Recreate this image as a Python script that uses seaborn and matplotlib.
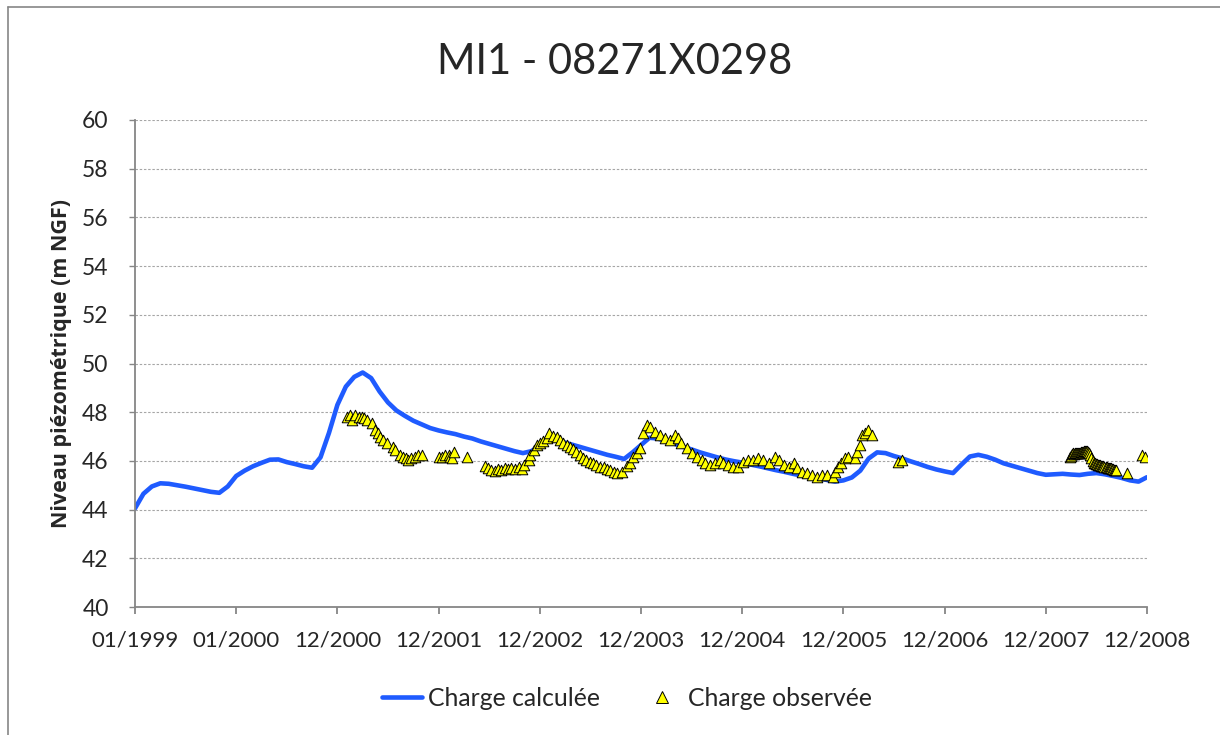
import matplotlib
matplotlib.use("Agg")
import matplotlib.pyplot as plt
import seaborn as sns
import numpy as np
import pandas as pd
from matplotlib.lines import Line2D

# ---------------------------------------------------------------- data
title = "MI1 - 08271X0298"
y_label = "Niveau piézométrique (m NGF)"
x_tick_labels = ["01/1999", "01/2000", "12/2000", "12/2001", "12/2002", "12/2003",
                 "12/2004", "12/2005", "12/2006", "12/2007", "12/2008"]
y_ticks = [40, 42, 44, 46, 48, 50, 52, 54, 56, 58, 60]

# simulated head, monthly, time in 365-day periods from 01/01/1999
calc_t = [m / 12 for m in range(121)]
calc_v = [
    44.05, 44.65, 44.95, 45.08, 45.06, 45.00, 44.94, 44.87, 44.80, 44.73, 44.69, 44.95,
    45.38, 45.60, 45.78, 45.92, 46.05, 46.06, 45.95, 45.87, 45.78, 45.72, 46.15, 47.15,
    48.30, 49.05, 49.45, 49.63, 49.40, 48.85, 48.40, 48.07, 47.85, 47.65, 47.50, 47.35,
    47.25, 47.17, 47.10, 47.00, 46.92, 46.80, 46.70, 46.60, 46.50, 46.40, 46.32, 46.40,
    46.62, 46.82, 46.85, 46.75, 46.65, 46.55, 46.45, 46.35, 46.25, 46.17, 46.08, 46.35,
    46.65, 46.95, 46.92, 46.80, 46.70, 46.58, 46.47, 46.35, 46.25, 46.15, 46.06, 45.99,
    45.93, 45.85, 45.78, 45.70, 45.62, 45.55, 45.47, 45.40, 45.35, 45.30, 45.22, 45.15,
    45.20, 45.32, 45.60, 46.10, 46.35, 46.32, 46.20, 46.10, 45.98, 45.87, 45.75, 45.65,
    45.57, 45.50, 45.85, 46.18, 46.25, 46.17, 46.05, 45.90, 45.80, 45.70, 45.60, 45.50,
    45.43, 45.45, 45.47, 45.44, 45.42, 45.47, 45.50, 45.45, 45.38, 45.30, 45.20, 45.15,
    45.33,
]

# observed head
obs_t = [
    # 2001
    2.09, 2.12, 2.14, 2.17, 2.21, 2.24, 2.26, 2.29, 2.34, 2.37, 2.40, 2.42, 2.45, 2.49,
    2.55, 2.57, 2.62, 2.65, 2.68, 2.70, 2.73, 2.77, 2.80, 2.84, 3.00, 3.03, 3.06, 3.10,
    3.11, 3.13, 3.15, 3.28,
    # 2002 - 2003
    3.46, 3.49, 3.52, 3.56, 3.59, 3.62, 3.66, 3.69, 3.72, 3.75, 3.79, 3.82, 3.84, 3.89,
    3.90, 3.94, 3.97, 4.00, 4.03, 4.07, 4.09, 4.13, 4.17, 4.20, 4.23, 4.27, 4.30, 4.33,
    4.36, 4.40, 4.43, 4.46, 4.50, 4.53, 4.56, 4.59, 4.63, 4.66, 4.69, 4.73, 4.76, 4.81,
    4.86, 4.89, 4.92, 4.96, 4.99, 5.02, 5.06,
    # 2004 - 2005
    5.09, 5.14, 5.19, 5.24, 5.29, 5.34, 5.37, 5.40, 5.45, 5.50, 5.55, 5.60, 5.63, 5.68,
    5.73, 5.78, 5.81, 5.86, 5.91, 5.96, 6.01, 6.06, 6.11, 6.16, 6.21, 6.26, 6.32, 6.36,
    6.41, 6.46, 6.51, 6.54, 6.59, 6.64, 6.69, 6.74, 6.79, 6.84, 6.90, 6.92, 6.95, 6.98,
    7.02, 7.05, 7.11, 7.13, 7.16, 7.18, 7.21, 7.24, 7.28, 7.54, 7.58,
    # 2008
    9.24, 9.25, 9.26, 9.27, 9.28, 9.29, 9.30, 9.31, 9.32, 9.33, 9.34, 9.35, 9.36, 9.37,
    9.38, 9.39, 9.40, 9.41, 9.42, 9.43, 9.44, 9.45, 9.47, 9.48, 9.49, 9.50, 9.51, 9.52,
    9.53, 9.54, 9.55, 9.56, 9.57, 9.58, 9.59, 9.60, 9.61, 9.62, 9.63, 9.64, 9.65, 9.66,
    9.67, 9.68, 9.69, 9.80, 9.95, 9.98,
]
obs_v = [
    # 2001
    47.82, 47.88, 47.68, 47.88, 47.82, 47.82, 47.75, 47.68, 47.54, 47.27, 47.13, 46.99,
    46.86, 46.72, 46.58, 46.45, 46.24, 46.17, 46.11, 46.04, 46.11, 46.17, 46.24, 46.24,
    46.17, 46.17, 46.24, 46.24, 46.15, 46.11, 46.38, 46.17,
    # 2002 - 2003
    45.79, 45.70, 45.63, 45.60, 45.66, 45.63, 45.70, 45.66, 45.70, 45.66, 45.74, 45.66,
    45.83, 46.04, 46.24, 46.45, 46.65, 46.75, 46.83, 46.93, 47.16, 47.02, 46.97, 46.86,
    46.75, 46.65, 46.56, 46.48, 46.38, 46.24, 46.11, 46.04, 45.97, 45.90, 45.83, 45.76,
    45.74, 45.66, 45.63, 45.56, 45.52, 45.56, 45.79, 45.90, 46.17, 46.31, 46.52, 47.13,
    47.47,
    # 2004 - 2005
    47.41, 47.20, 47.06, 46.93, 46.86, 47.06, 46.93, 46.72, 46.52, 46.31, 46.17, 46.04,
    45.90, 45.83, 45.90, 46.04, 45.90, 45.83, 45.76, 45.76, 45.97, 46.04, 46.04, 46.11,
    46.04, 45.90, 46.17, 46.04, 45.83, 45.76, 45.90, 45.70, 45.56, 45.49, 45.42, 45.35,
    45.42, 45.42, 45.35, 45.56, 45.76, 45.90, 46.11, 46.17, 46.11, 46.38, 46.65, 47.06,
    47.13, 47.27, 47.06, 45.97, 46.04,
    # 2008
    46.17, 46.22, 46.28, 46.31, 46.30, 46.32, 46.31, 46.33, 46.32, 46.34, 46.33, 46.35,
    46.37, 46.38, 46.40, 46.42, 46.41, 46.40, 46.38, 46.33, 46.26, 46.12, 45.98, 45.93,
    45.90, 45.88, 45.86, 45.84, 45.83, 45.82, 45.80, 45.79, 45.78, 45.77, 45.75, 45.74,
    45.72, 45.71, 45.70, 45.69, 45.67, 45.66, 45.64, 45.63, 45.61, 45.52, 46.24, 46.17,
]

calc = pd.DataFrame({"t": calc_t, "v": calc_v})
obs = pd.DataFrame({"t": obs_t, "v": obs_v})

# ---------------------------------------------------------------- style
sns.set_theme(style="white")
plt.rcParams["font.family"] = ["Lato", "DejaVu Sans"]

W, H = 1220, 735
fig = plt.figure(figsize=(W / 100, H / 100), dpi=100)
ax = fig.add_axes([135 / W, 1 - 607 / H, (1147 - 135) / W, (607 - 120) / H])

line_col = "#1F5BFF"
axis_col = "#868686"

sns.lineplot(data=calc, x="t", y="v", ax=ax, color=line_col, linewidth=3.3,
             label="Charge calculée", zorder=2, solid_joinstyle="round",
             solid_capstyle="round")
sns.scatterplot(data=obs, x="t", y="v", ax=ax, marker="^", s=58, color="#FFFF00",
                edgecolor="black", linewidth=0.7, label="Charge observée", zorder=3)

ax.set_xlim(0, 10)
ax.set_ylim(40, 60)
ax.set_xticks(range(len(x_tick_labels)))
ax.set_xticklabels(x_tick_labels)
ax.set_yticks(y_ticks)
ax.set_yticklabels([str(v) for v in y_ticks])
ax.set_xlabel("")
ax.set_ylabel(y_label, fontsize=15.5, fontweight="bold", labelpad=7,
              family=["Open Sans", "DejaVu Sans"])

ax.yaxis.grid(True, color="#A6A6A6", linestyle=(0, (2.2, 1.6)), linewidth=0.8)
ax.xaxis.grid(False)
ax.set_axisbelow(True)
for side in ["top", "right"]:
    ax.spines[side].set_visible(False)
for side in ["left", "bottom"]:
    ax.spines[side].set_color(axis_col)
    ax.spines[side].set_linewidth(1.3)
ax.tick_params(axis="x", which="major", direction="out", length=5, width=1.3,
               color=axis_col, labelsize=16, pad=12, bottom=True)
ax.tick_params(axis="y", which="major", direction="out", length=4, width=1.0,
               color=axis_col, labelsize=16.5, pad=15, left=True)

# title
fig.text(615 / W, 1 - 62 / H, title, ha="center", va="center", fontsize=30)

# legend under the plot
handles, labels = ax.get_legend_handles_labels()
ax.get_legend().remove()
leg_handles = [
    Line2D([], [], color=line_col, linewidth=3.3),
    Line2D([], [], linestyle="none", marker="^", markersize=8.5,
           markerfacecolor="#FFFF00", markeredgecolor="black", markeredgewidth=0.7),
]
fig.legend(leg_handles, labels, loc="center", bbox_to_anchor=(627 / W, 1 - 698 / H),
           ncol=2, frameon=False, fontsize=17.8, handlelength=1.6,
           handletextpad=0.25, columnspacing=1.7)

# chart area frame
fig.add_artist(Line2D([8 / W, 8 / W], [0, 1 - 7 / H], transform=fig.transFigure,
                      color=axis_col, linewidth=1.2))
fig.add_artist(Line2D([8 / W, 1], [1 - 7 / H, 1 - 7 / H], transform=fig.transFigure,
                      color=axis_col, linewidth=1.2))

fig.savefig("out.png", dpi=100)
